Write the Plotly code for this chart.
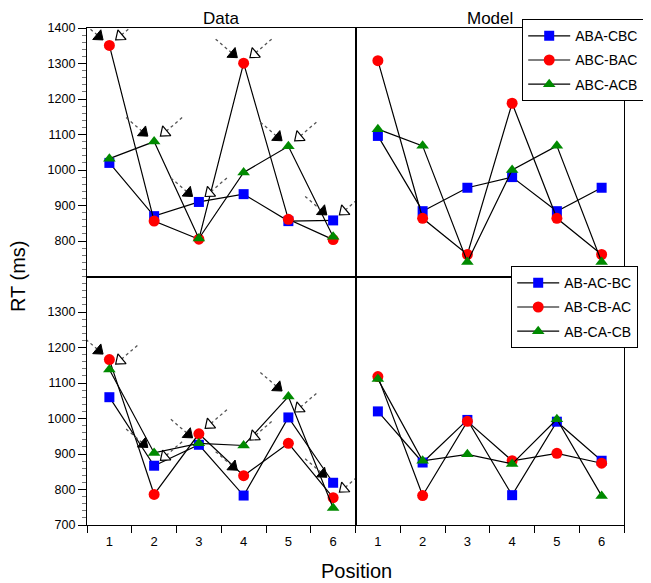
import plotly.graph_objects as go

# ---------------- data ----------------
positions = [1, 2, 3, 4, 5, 6]
tick_labels = ["1", "2", "3", "4", "5", "6"]

top_names = ["ABA-CBC", "ABC-BAC", "ABC-ACB"]
bottom_names = ["AB-AC-BC", "AB-CB-AC", "AB-CA-CB"]

data_top_aba_cbc = [1020, 870, 910, 932, 856, 858]
data_top_abc_bac = [1351, 856, 805, 1301, 861, 804]
data_top_abc_acb = [1032, 1080, 807, 993, 1067, 812]

model_top_aba_cbc = [1096, 884, 950, 980, 884, 950]
model_top_abc_bac = [1308, 864, 762, 1188, 864, 762]
model_top_abc_acb = [1115, 1068, 741, 1000, 1068, 741]

data_bot_ab_ac_bc = [1060, 867, 926, 783, 1003, 819]
data_bot_ab_cb_ac = [1166, 786, 957, 839, 930, 777]
data_bot_ab_ca_cb = [1138, 903, 930, 924, 1062, 748]

model_bot_ab_ac_bc = [1020, 876, 996, 784, 991, 881]
model_bot_ab_cb_ac = [1118, 783, 992, 881, 902, 874]
model_bot_ab_ca_cb = [1111, 881, 899, 872, 998, 782]

# which series (0 blue, 1 red, 2 green) each arrow points at, per position
top_black_target = [1, 2, 0, 1, 2, 0]
top_open_target = [1, 2, 0, 1, 2, 0]
bot_black_target = [1, 2, 2, 1, 2, 0]
bot_open_target = [2, 0, 1, 2, 0, 1]

top_yticks = [800, 900, 1000, 1100, 1200, 1300, 1400]
bot_yticks = [700, 800, 900, 1000, 1100, 1200, 1300]

# ---------------- styling ----------------
OFF = 8  # page body margin
W, H = 651 - OFF, 583 - OFF
ML, MR, MT, MB = 87 - OFF, 27, 28 - OFF, 58
PW, PH = W - ML - MR, H - MT - MB
XR = [0.5, 6.5]
YR = [700, 1400]
PX_X = 0.5 * PW / (XR[1] - XR[0])
PX_Y = 0.5 * PH / (YR[1] - YR[0])


def px_x(page_x):
    return (page_x - OFF - ML) / PW


def px_y(page_y):
    return (H - MB - (page_y - OFF)) / PH


FONT = "Liberation Sans, Arial, Helvetica, sans-serif"
colors = ["#0000ff", "#ff0000", "#008a00"]
symbols = ["square", "circle", "triangle-up"]
msizes = [10, 11, 11]

fig = go.Figure()


def add_series(names, series, xa, ya, legend, show):
    for k, (nm, vals) in enumerate(zip(names, series)):
        fig.add_trace(go.Scatter(
            x=positions, y=vals, name=nm, mode="lines+markers",
            xaxis=xa, yaxis=ya,
            line=dict(color="black", width=1.2),
            marker=dict(color=colors[k], symbol=symbols[k], size=msizes[k]),
            legend=legend, legendgroup=legend + nm, showlegend=show,
            cliponaxis=False,
        ))


def add_arrows(series, targets, kind, xa, ya):
    sgn = -1 if kind == "black" else 1
    hx, hy, lx, ly = [], [], [], []
    for i, t in enumerate(targets):
        x0 = positions[i]
        y0 = series[t][i]
        hx.append(x0 + sgn * 10.5 / PX_X)
        hy.append(y0 + 9 / PX_Y)
        lx += [x0 + sgn * 28 / PX_X, x0 + sgn * 10.5 / PX_X, None]
        ly += [y0 + 24 / PX_Y, y0 + 9 / PX_Y, None]
    fig.add_trace(go.Scatter(
        x=lx, y=ly, mode="lines", xaxis=xa, yaxis=ya, showlegend=False,
        line=dict(color="#555555", width=1.3, dash="dot"), hoverinfo="skip",
        cliponaxis=False,
    ))
    if kind == "black":
        mk = dict(symbol="triangle-up", size=11, color="black", angle=130,
                  line=dict(color="black", width=1))
    else:
        mk = dict(symbol="triangle-up", size=11, color="white", angle=230,
                  line=dict(color="black", width=1.2))
    fig.add_trace(go.Scatter(
        x=hx, y=hy, mode="markers", xaxis=xa, yaxis=ya, showlegend=False,
        marker=mk, hoverinfo="skip", cliponaxis=False,
    ))


top_data = [data_top_aba_cbc, data_top_abc_bac, data_top_abc_acb]
top_model = [model_top_aba_cbc, model_top_abc_bac, model_top_abc_acb]
bot_data = [data_bot_ab_ac_bc, data_bot_ab_cb_ac, data_bot_ab_ca_cb]
bot_model = [model_bot_ab_ac_bc, model_bot_ab_cb_ac, model_bot_ab_ca_cb]

add_series(top_names, top_data, "x", "y", "legend", True)
add_series(top_names, top_model, "x2", "y2", "legend", False)
add_series(bottom_names, bot_data, "x3", "y3", "legend2", True)
add_series(bottom_names, bot_model, "x4", "y4", "legend2", False)

add_arrows(top_data, top_black_target, "black", "x", "y")
add_arrows(top_data, top_open_target, "open", "x", "y")
add_arrows(bot_data, bot_black_target, "black", "x3", "y3")
add_arrows(bot_data, bot_open_target, "open", "x3", "y3")

frame = dict(showline=True, mirror=True, linecolor="black", linewidth=1.2,
             showgrid=False, zeroline=False)

half_ticks = [p - 0.5 for p in positions] + [positions[-1] + 0.5]


def xaxis(domain, anchor, labels):
    d = dict(frame, domain=domain, anchor=anchor, range=XR)
    if labels:
        d.update(tickvals=positions, ticktext=tick_labels, ticks="outside",
                 ticklen=4, tickcolor="rgba(0,0,0,0)",
                 tickfont=dict(size=13, color="black", family=FONT),
                 minor=dict(tickmode="array", tickvals=half_ticks, ticks="outside",
                            ticklen=7, tickcolor="black", tickwidth=1))
    else:
        d.update(showticklabels=False, ticks="")
    return d


def yaxis(domain, anchor, ticks):
    d = dict(frame, domain=domain, anchor=anchor, range=YR)
    if ticks is not None:
        d.update(tickvals=ticks, ticks="outside", ticklen=8, tickwidth=1,
                 tickcolor="black",
                 tickfont=dict(size=12.5, color="black", family=FONT),
                 minor=dict(ticks="outside", dtick=20, tick0=0, ticklen=4,
                            tickcolor="#777777", tickwidth=1))
    else:
        d.update(showticklabels=False, ticks="")
    return d


leg_common = dict(bgcolor="white", bordercolor="black", borderwidth=1.2,
                  font=dict(size=14, color="black", family=FONT),
                  xanchor="left", yanchor="top", tracegroupgap=3,
                  traceorder="grouped", itemwidth=42)

fig.update_layout(
    width=W, height=H,
    margin=dict(l=ML, r=MR, t=MT, b=MB, autoexpand=False),
    paper_bgcolor="white", plot_bgcolor="white",
    font=dict(family=FONT, color="black"),
    xaxis=xaxis([0, 0.5], "y", False),
    yaxis=yaxis([0.5, 1], "x", top_yticks),
    xaxis2=xaxis([0.5, 1], "y2", False),
    yaxis2=yaxis([0.5, 1], "x2", None),
    xaxis3=xaxis([0, 0.5], "y3", True),
    yaxis3=yaxis([0, 0.5], "x3", bot_yticks),
    xaxis4=xaxis([0.5, 1], "y4", True),
    yaxis4=yaxis([0, 0.5], "x4", None),
    legend=dict(leg_common, x=px_x(522), y=px_y(19)),
    legend2=dict(leg_common, x=px_x(511), y=px_y(266)),
    annotations=[
        dict(text="Data", x=0.25, y=px_y(19), xref="paper", yref="paper",
             xanchor="center", yanchor="middle", showarrow=False,
             font=dict(size=17, family=FONT)),
        dict(text="Model", x=0.75, y=px_y(19), xref="paper", yref="paper",
             xanchor="center", yanchor="middle", showarrow=False,
             font=dict(size=17, family=FONT)),
        dict(text="RT (ms)", x=px_x(18), y=px_y(277), xref="paper", yref="paper",
             xanchor="center", yanchor="middle",
             textangle=-90, showarrow=False, font=dict(size=20, family=FONT)),
        dict(text="Position", x=px_x(356), y=px_y(571), xref="paper",
             yref="paper", xanchor="center", yanchor="middle",
             showarrow=False, font=dict(size=20, family=FONT)),
    ],
)

fig.write_html("out.html")
